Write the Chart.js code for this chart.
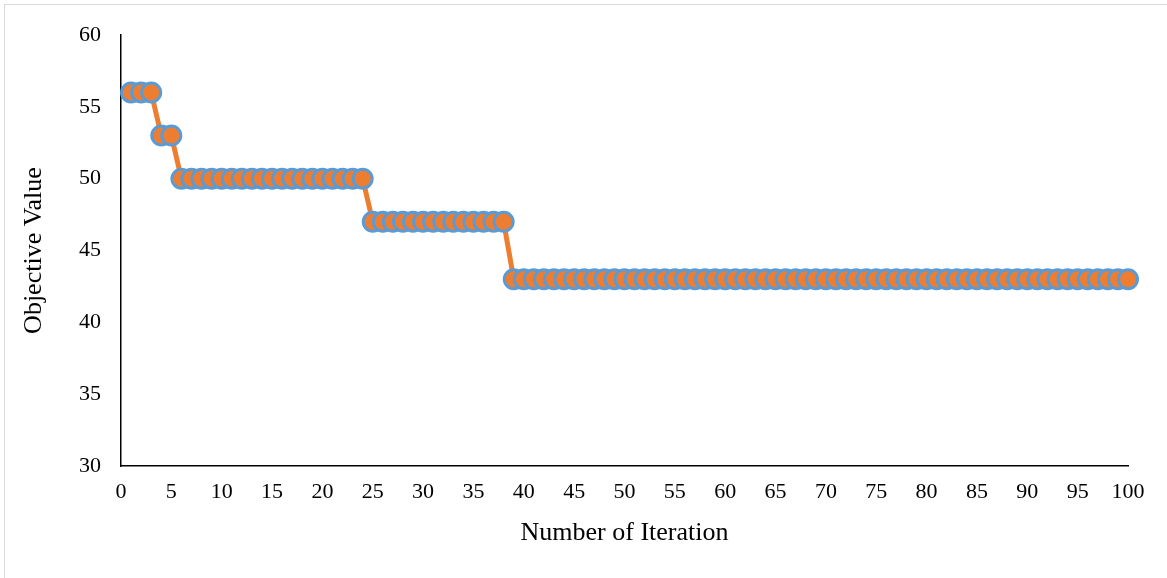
<!DOCTYPE html>
<html>
<head>
<meta charset="utf-8">
<script src="https://cdn.jsdelivr.net/npm/chart.js@4"></script>
<style>
  html, body { margin: 0; padding: 0; background: #fff; }
  #wrap { position: relative; width: 1167px; height: 578px; }
  #frame { position: absolute; left: 4px; top: 4px; width: 1170px; height: 580px; border: 1px solid #d9d9d9; box-sizing: border-box; }
  canvas { position: absolute; left: 0; top: 0; }
</style>
</head>
<body>
<div id="wrap">
  <div id="frame"></div>
  <canvas id="myChart" width="1167" height="578"></canvas>
</div>
<script>
"use strict";
const iterations = [
  1, 2, 3, 4, 5, 6, 7, 8, 9, 10, 11, 12, 13, 14, 15, 16, 17, 18, 19, 20,
  21, 22, 23, 24, 25, 26, 27, 28, 29, 30, 31, 32, 33, 34, 35, 36, 37, 38, 39, 40,
  41, 42, 43, 44, 45, 46, 47, 48, 49, 50, 51, 52, 53, 54, 55, 56, 57, 58, 59, 60,
  61, 62, 63, 64, 65, 66, 67, 68, 69, 70, 71, 72, 73, 74, 75, 76, 77, 78, 79, 80,
  81, 82, 83, 84, 85, 86, 87, 88, 89, 90, 91, 92, 93, 94, 95, 96, 97, 98, 99, 100,
];
const objectiveValues = [
  56, 56, 56, 53, 53, 50, 50, 50, 50, 50, 50, 50, 50, 50, 50, 50, 50, 50, 50, 50,
  50, 50, 50, 50, 47, 47, 47, 47, 47, 47, 47, 47, 47, 47, 47, 47, 47, 47, 43, 43,
  43, 43, 43, 43, 43, 43, 43, 43, 43, 43, 43, 43, 43, 43, 43, 43, 43, 43, 43, 43,
  43, 43, 43, 43, 43, 43, 43, 43, 43, 43, 43, 43, 43, 43, 43, 43, 43, 43, 43, 43,
  43, 43, 43, 43, 43, 43, 43, 43, 43, 43, 43, 43, 43, 43, 43, 43, 43, 43, 43, 43,
];
const xTitle = "Number of Iteration";
const yTitle = "Objective Value";

const points = iterations.map((x, i) => ({ x: x, y: objectiveValues[i] }));

const serif = "'Liberation Serif', 'Times New Roman', serif";
const ctx = document.getElementById("myChart").getContext("2d");

const config = {
  type: "scatter",
  data: {
    datasets: [
      {
        data: points,
        showLine: true,
        borderColor: "#ED7D31",
        borderWidth: 5,
        pointBackgroundColor: "#ED7D31",
        pointBorderColor: "#5B9BD5",
        pointBorderWidth: 3,
        pointRadius: 9.5,
        pointHoverRadius: 9.5,
        clip: false,
      },
    ],
  },
  options: {
    responsive: false,
    animation: false,
    events: [],
    layout: { padding: { top: 35, right: 39, bottom: 0, left: 0 } },
    plugins: {
      legend: { display: false },
      tooltip: { enabled: false },
    },
    scales: {
      x: {
        type: "linear",
        min: 0,
        max: 100,
        grid: { display: false, drawTicks: false },
        border: { display: true, color: "#000", width: 1.5 },
        ticks: {
          stepSize: 5,
          padding: 13,
          color: "#000",
          maxRotation: 0,
          autoSkip: false,
          font: { family: serif, size: 22 },
        },
        title: {
          display: true,
          text: xTitle,
          color: "#000",
          font: { family: serif, size: 26 },
          padding: { top: 0, bottom: 29 },
        },
        afterFit: function (scale) {
          scale.height = 112;
        },
      },
      y: {
        min: 30,
        max: 60,
        grid: { display: false, drawTicks: false },
        border: { display: true, color: "#000", width: 1.5 },
        ticks: {
          stepSize: 5,
          padding: 20,
          color: "#000",
          font: { family: serif, size: 22 },
        },
        title: {
          display: true,
          text: yTitle,
          color: "#000",
          font: { family: serif, size: 26 },
          padding: { top: 19, bottom: 0 },
        },
        afterFit: function (scale) {
          scale.width = 121;
        },
      },
    },
  },
};

const myChart = new Chart(ctx, config);
</script>
</body>
</html>
